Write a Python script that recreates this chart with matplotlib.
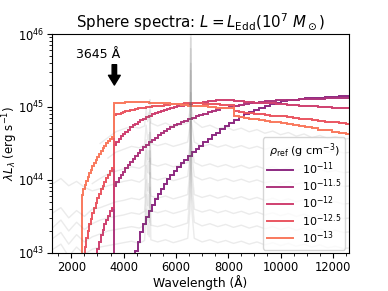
import numpy as np
import matplotlib
matplotlib.use('Agg')
import matplotlib.pyplot as plt
from matplotlib.ticker import AutoMinorLocator

# model spectra: log-spaced wavelength bins, one bin edge sits on the Balmer limit
bin_edges = 3645.0 * np.exp(0.022 * np.arange(-22, 58))
k_offset = 22  # bin_edges[k_offset] == 3645 A

rho_labels = [r'$10^{-11}$', r'$10^{-11.5}$', r'$10^{-12}$', r'$10^{-12.5}$', r'$10^{-13}$']
first_bin = [9, 0, -9, -17, -19]

# log10(lambda L_lambda) per bin
logL_11 = [43.02, 43.15, 43.28, 43.39, 43.49, 43.58, 43.66, 43.74, 43.81, 43.88,
           43.95, 44.01, 44.07, 44.12, 44.18, 44.23, 44.28, 44.33, 44.38, 44.43,
           44.47, 44.52, 44.56, 44.61, 44.65, 44.70, 44.74, 44.78, 44.82, 44.86,
           44.90, 44.93, 44.96, 44.99, 45.02, 45.04, 45.06, 45.08, 45.09, 45.10,
           45.11, 45.12, 45.13, 45.13, 45.14, 45.14, 45.15, 45.15]
logL_115 = [43.92, 43.97, 44.02, 44.07, 44.11, 44.16, 44.20, 44.25, 44.29, 44.33,
            44.37, 44.41, 44.45, 44.48, 44.52, 44.55, 44.58, 44.61, 44.64, 44.67,
            44.70, 44.72, 44.75, 44.77, 44.79, 44.81, 44.83, 44.85, 44.87, 44.89,
            44.91, 44.93, 44.95, 44.96, 44.98, 44.99, 45.00, 45.02, 45.03, 45.04,
            45.05, 45.06, 45.07, 45.08, 45.08, 45.09, 45.09, 45.10, 45.10, 45.11,
            45.11, 45.11, 45.11, 45.12, 45.12, 45.12, 45.12]
logL_12 = [43.05, 43.15, 43.24, 43.32, 43.39, 43.45, 43.51, 43.57, 43.62,
           44.48, 44.52, 44.56, 44.60, 44.63, 44.66, 44.69, 44.72, 44.75, 44.77,
           44.80, 44.82, 44.84, 44.86, 44.88, 44.90, 44.92, 44.93, 44.95, 44.96,
           44.97, 44.99, 45.00, 45.01, 45.02, 45.03, 45.04, 45.05, 45.06, 45.06,
           45.07, 45.08, 45.08, 45.09, 45.09, 45.10, 45.10,
           45.08, 45.08, 45.07, 45.07, 45.06, 45.06, 45.05, 45.05, 45.04, 45.04,
           45.03, 45.03, 45.02, 45.02, 45.01, 45.00, 45.00, 44.99, 44.99, 44.98]
logL_125 = [43.08, 43.20, 43.30, 43.39, 43.47, 43.55, 43.62, 43.69, 43.75, 43.81,
            43.87, 43.92, 43.97, 44.02, 44.07, 44.12, 44.17,
            44.89, 44.90, 44.91, 44.92, 44.93, 44.94, 44.95, 44.96, 44.96, 44.97,
            44.98, 44.98, 44.99, 45.00, 45.00, 45.01, 45.01, 45.02, 45.02, 45.03,
            45.03, 45.04, 45.04, 45.04, 45.04, 45.05, 45.05, 45.05, 45.05, 45.05,
            45.04, 45.04, 45.04, 45.04, 45.03, 45.03, 45.03,
            44.94, 44.93, 44.92, 44.92, 44.91, 44.90, 44.89, 44.88, 44.87, 44.87,
            44.86, 44.85, 44.84, 44.83, 44.82, 44.81, 44.80, 44.79, 44.78, 44.77]
logL_13 = [43.79, 43.87, 43.93, 43.99, 44.04, 44.09, 44.14, 44.19, 44.23, 44.28,
           44.32, 44.36, 44.40, 44.44, 44.47, 44.50, 44.53, 44.56, 44.59,
           45.05, 45.05, 45.06, 45.06, 45.06, 45.07, 45.07, 45.07, 45.07, 45.07,
           45.07, 45.07, 45.07, 45.07, 45.06, 45.06, 45.06, 45.06, 45.05, 45.05,
           45.05, 45.04, 45.04, 45.04, 45.03, 45.03, 45.02, 45.02, 45.02, 45.01,
           45.01, 45.00, 45.00, 44.99, 44.99, 44.98, 44.98,
           44.87, 44.86, 44.85, 44.84, 44.83, 44.82, 44.81, 44.80, 44.79, 44.78,
           44.76, 44.75, 44.74, 44.72, 44.71, 44.69, 44.68, 44.66, 44.65, 44.63]
model_logL = [logL_11, logL_115, logL_12, logL_125, logL_13]

# observed spectra in the background (log10 lambda L_lambda)
g_wave = [1300, 1600, 1900, 2200, 2500, 2800, 3100, 3400, 3700, 4000,
          4300, 4600, 4800, 4861, 4920, 4959, 4985, 5007, 5040, 5300,
          5600, 5900, 6200, 6450, 6540, 6563, 6590, 6700, 7000, 7300,
          7600, 7900, 8200, 8500, 8800, 9100, 9400, 9700, 10000, 10300,
          10600, 10900, 11200, 11500, 11800, 12100, 12400, 12700]
nan = np.nan
g1 = [nan, nan, nan, nan, nan, nan, 44.50, 44.58, 44.66, 44.70,
      44.73, 44.71, 44.74, 44.98, 44.80, 44.92, 44.82, 45.10, 44.78, 44.74,
      44.78, 44.73, 44.76, 44.78, 44.95, 45.95, 44.98, 44.80, 44.72, 44.75,
      44.70, 44.73, 44.68, 44.71, 44.66, 44.69, 44.64, 44.67, 44.62, 44.65,
      44.60, 44.63, 44.58, 44.61, 44.57, 44.59, 44.56, 44.57]
g2 = [nan, nan, nan, nan, nan, nan, nan, 44.30, 44.38, 44.42,
      44.46, 44.44, 44.48, 44.75, 44.55, 44.62, 44.52, 44.95, 44.50, 44.47,
      44.50, 44.46, 44.49, 44.52, 44.75, 46.10, 44.80, 44.52, 44.46, 44.49,
      44.45, 44.48, 44.44, 44.47, 44.43, 44.46, 44.42, 44.45, 44.41, 44.44,
      44.40, 44.43, 44.39, 44.42, 44.38, 44.40, 44.37, 44.38]
g3 = [nan, nan, nan, nan, nan, 43.95, 44.02, 44.08, 44.12, 44.15,
      44.18, 44.16, 44.20, 44.55, 44.28, 44.40, 44.25, 44.80, 44.22, 44.19,
      44.22, 44.18, 44.21, 44.24, 44.50, 45.50, 44.55, 44.24, 44.19, 44.22,
      44.18, 44.21, 44.17, 44.20, 44.16, 44.19, 44.15, 44.18, 44.14, 44.17,
      44.13, 44.16, 44.12, 44.15, 44.11, 44.13, 44.10, 44.11]
g4 = [43.95, 44.02, 43.92, 43.98, 43.90, 43.85, 43.88, 43.92, 43.95, 43.98,
      44.00, 43.97, 44.02, 44.40, 44.10, 44.25, 44.08, 44.65, 44.03, 44.00,
      44.03, 43.99, 44.02, 44.05, 44.35, 45.80, 44.40, 44.05, 44.00, 44.03,
      43.99, 44.02, 43.98, 44.01, 43.97, 44.00, 43.96, 43.99, 43.95, 43.98,
      43.94, 43.97, 43.93, 43.96, 43.92, 43.94, 43.91, 43.92]
g5 = [43.55, 43.62, 43.48, 43.58, 43.50, 43.60, 43.62, 43.66, 43.70, 43.72,
      43.75, 43.73, 43.77, 44.20, 43.85, 43.95, 43.82, 44.40, 43.78, 43.75,
      43.78, 43.74, 43.77, 43.80, 44.15, 45.20, 44.20, 43.80, 43.76, 43.79,
      43.75, 43.78, 43.74, 43.77, 43.73, 43.76, 43.72, 43.75, 43.71, 43.74,
      43.70, 43.73, 43.69, 43.72, 43.68, 43.70, 43.67, 43.68]
g6 = [43.35, 43.45, 43.30, 43.42, 43.32, 43.40, 43.45, 43.48, 43.50, 43.52,
      43.55, 43.53, 43.57, 44.00, 43.65, 43.80, 43.62, 44.30, 43.58, 43.55,
      43.58, 43.54, 43.57, 43.60, 44.00, 45.60, 44.05, 43.60, 43.56, 43.59,
      43.55, 43.58, 43.54, 43.57, 43.53, 43.56, 43.52, 43.55, 43.51, 43.54,
      43.50, 43.53, 43.49, 43.52, 43.48, 43.50, 43.47, 43.48]
g7 = [43.20, 43.28, 43.12, 43.25, 43.15, 43.22, 43.26, 43.30, 43.32, 43.34,
      43.36, 43.34, 43.38, 43.80, 43.45, 43.60, 43.42, 44.10, 43.38, 43.36,
      43.39, 43.35, 43.38, 43.41, 43.80, 44.90, 43.85, 43.42, 43.37, 43.40,
      43.36, 43.39, 43.35, 43.38, 43.34, 43.37, 43.33, 43.36, 43.32, 43.35,
      43.31, 43.34, 43.30, 43.33, 43.29, 43.31, 43.28, 43.29]
g8 = [43.05, 43.12, 42.95, 43.08, 42.98, 43.05, 43.08, 43.10, 43.12, 43.14,
      43.16, 43.13, 43.17, 43.60, 43.25, 43.40, 43.22, 43.90, 43.18, 43.15,
      43.18, 43.14, 43.17, 43.20, 43.60, 44.80, 43.65, 43.20, 43.15, 43.18,
      43.14, 43.17, 43.13, 43.16, 43.12, 43.15, 43.11, 43.14, 43.10, 43.13,
      43.09, 43.12, 43.08, 43.11, 43.07, 43.09, 43.06, 43.07]
grey_spectra = [g1, g2, g3, g4, g5, g6, g7, g8]

fig, ax = plt.subplots(figsize=(3.88, 2.91), dpi=100)
fig.subplots_adjust(left=0.134, right=0.899, bottom=0.131, top=0.883)

for s in grey_spectra:
    ax.plot(g_wave, 10**np.array(s), color='0.4', alpha=0.13, lw=1.0)

colors = plt.cm.magma(np.linspace(0.4, 0.72, 5))
for vals, k, lab, c in zip(model_logL, first_bin, rho_labels, colors):
    i0 = k + k_offset
    edges = bin_edges[i0:i0 + len(vals) + 1]
    ax.stairs(10**np.array(vals), edges, baseline=1e40, color=c, lw=1.4, label=lab)

ax.annotate('', xy=(3645, 2.0e45), xytext=(3645, 3.8e45),
            arrowprops=dict(facecolor='black', width=3.2, headwidth=8.5, headlength=7))
ax.text(3020, 5.2e45, '3645 Å', ha='center', va='center', fontsize=9)

ax.set_yscale('log')
ax.set_xlim(1260, 12610)
ax.set_ylim(1e43, 1e46)
ax.xaxis.set_minor_locator(AutoMinorLocator(4))
ax.tick_params(labelsize=8.3, pad=2)
ax.set_xlabel('Wavelength (Å)', fontsize=8.8, labelpad=1)
ax.set_ylabel(r'$\lambda L_\lambda$ (erg s$^{-1}$)', fontsize=8.5)
ax.yaxis.set_label_coords(-0.108, 0.5)
ax.set_title(r'Sphere spectra: $L = L_{\rm Edd}(10^7\ M_\odot)$', fontsize=10.8, pad=4)
ax.legend(loc='lower right', fontsize=8, title=r'$\rho_{\rm ref}$ (g cm$^{-3}$)',
          title_fontsize=8, labelspacing=0.05, borderpad=0.35, handlelength=2.4,
          borderaxespad=0.3)

fig.savefig('out.png', dpi=100)
